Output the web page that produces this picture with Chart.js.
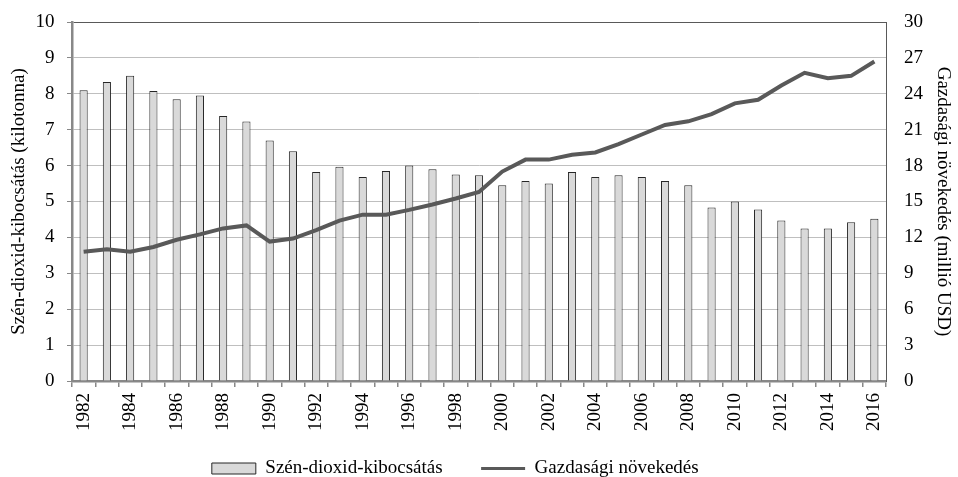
<!DOCTYPE html>
<html>
<head>
<meta charset="utf-8">
<script src="https://cdn.jsdelivr.net/npm/chart.js@4.4.0/dist/chart.umd.min.js"></script>
<style>
  html, body { margin: 0; padding: 0; background: #fff; }
  #wrap { width: 958px; height: 477px; }
</style>
</head>
<body>
<div id="wrap"><canvas id="myChart" width="958" height="477"></canvas></div>
<script>
// Years on the x axis
const years = [1982, 1983, 1984, 1985, 1986, 1987, 1988, 1989, 1990, 1991,
  1992, 1993, 1994, 1995, 1996, 1997, 1998, 1999, 2000, 2001,
  2002, 2003, 2004, 2005, 2006, 2007, 2008, 2009, 2010, 2011,
  2012, 2013, 2014, 2015, 2016];

// CO2 emission (kilotonna), left axis
const emission = [8.1, 8.33, 8.5, 8.08, 7.85, 7.95, 7.38, 7.23, 6.7, 6.4,
  5.82, 5.97, 5.68, 5.85, 6.0, 5.9, 5.75, 5.73, 5.45, 5.57,
  5.5, 5.82, 5.68, 5.73, 5.68, 5.57, 5.45, 4.83, 5.0, 4.78,
  4.47, 4.25, 4.25, 4.42, 4.52];

// Economic growth (millió USD), right axis
const growth = [10.8, 11.0, 10.8, 11.2, 11.8, 12.25, 12.75, 13.0, 11.65, 11.9,
  12.6, 13.4, 13.9, 13.9, 14.3, 14.75, 15.25, 15.8, 17.5, 18.5,
  18.5, 18.9, 19.1, 19.8, 20.6, 21.4, 21.7, 22.3, 23.2, 23.5,
  24.7, 25.75, 25.3, 25.5, 26.7];

const seriesNames = ['Szén-dioxid-kibocsátás', 'Gazdasági növekedés'];
const leftTitle = 'Szén-dioxid-kibocsátás (kilotonna)';
const rightTitle = 'Gazdasági növekedés (millió USD)';

const font = { family: '"Liberation Serif", "Times New Roman", serif', size: 19 };
Chart.defaults.font = font;
Chart.defaults.color = '#000';

const config = {
  type: 'bar',
  data: {
    labels: years,
    datasets: [{
      label: seriesNames[0],
      data: emission,
      backgroundColor: '#d9d9d9',
      borderColor: '#262626',
      borderWidth: 1,
      barPercentage: 0.35,
      categoryPercentage: 1,
      yAxisID: 'y',
      order: 1
    }, {
      type: 'line',
      label: seriesNames[1],
      data: growth,
      borderColor: '#595959',
      backgroundColor: '#595959',
      borderWidth: 4,
      pointRadius: 0,
      tension: 0,
      yAxisID: 'y2',
      order: 0
    }]
  },
  options: {
    responsive: false,
    animation: false,
    layout: { padding: { top: 22, bottom: -11, left: 0, right: 0 } },
    plugins: {
      tooltip: { enabled: false },
      legend: {
        position: 'bottom',
        labels: {
          usePointStyle: true,
          pointStyleWidth: 44,
          boxHeight: 11,
          padding: 10,
          font: font,
          sort: (a, b) => a.datasetIndex - b.datasetIndex,
          generateLabels: chart => Chart.defaults.plugins.legend.labels.generateLabels(chart).map(l => {
            if (l.datasetIndex === 0) {
              // extra spaces widen the gap between the two items
              return { ...l, text: l.text + '\u2003\u2002', pointStyle: 'rect', lineWidth: 1, strokeStyle: '#262626' };
            }
            // trailing spaces push the whole legend a bit to the left
            return { ...l, text: l.text + '\u2003\u2003\u2002', pointStyle: 'line', lineWidth: 3 };
          })
        }
      }
    },
    scales: {
      x: {
        offset: true,
        grid: { offset: true, drawOnChartArea: false, tickLength: 6, tickColor: '#888', lineWidth: 1.5 },
        border: { color: '#888', width: 2.5 },
        ticks: {
          autoSkip: false,
          minRotation: 90,
          maxRotation: 90,
          padding: 6,
          callback: function (value, index) {
            return years[index] % 2 === 0 ? String(years[index]) : '';
          }
        },
        afterFit: axis => { axis.height = 68; }
      },
      y: {
        position: 'left',
        min: 0,
        max: 10,
        ticks: { stepSize: 1, padding: 12.5, font: { ...font, lineHeight: 1 } },
        grid: {
          color: ctx => ctx.tick && ctx.tick.value === 10 ? '#595959' : '#bfbfbf',
          tickColor: '#888',
          tickLength: 5
        },
        border: { color: '#888', width: 2.5 },
        title: { display: true, text: leftTitle, padding: { top: 8, bottom: 0 } },
        afterFit: axis => { axis.width = 72; }
      },
      y2: {
        position: 'right',
        min: 0,
        max: 30,
        ticks: { stepSize: 3, padding: 7, font: { ...font, lineHeight: 1 } },
        grid: { display: true, drawOnChartArea: false, tickLength: 11, tickColor: 'rgba(0,0,0,0)' },
        border: { display: true, color: '#595959', width: 1 },
        title: { display: true, text: rightTitle, padding: { top: 4, bottom: 0 } },
        afterFit: axis => { axis.width = 72; }
      }
    }
  }
};

const myChart = new Chart(document.getElementById('myChart'), config);
</script>
</body>
</html>
